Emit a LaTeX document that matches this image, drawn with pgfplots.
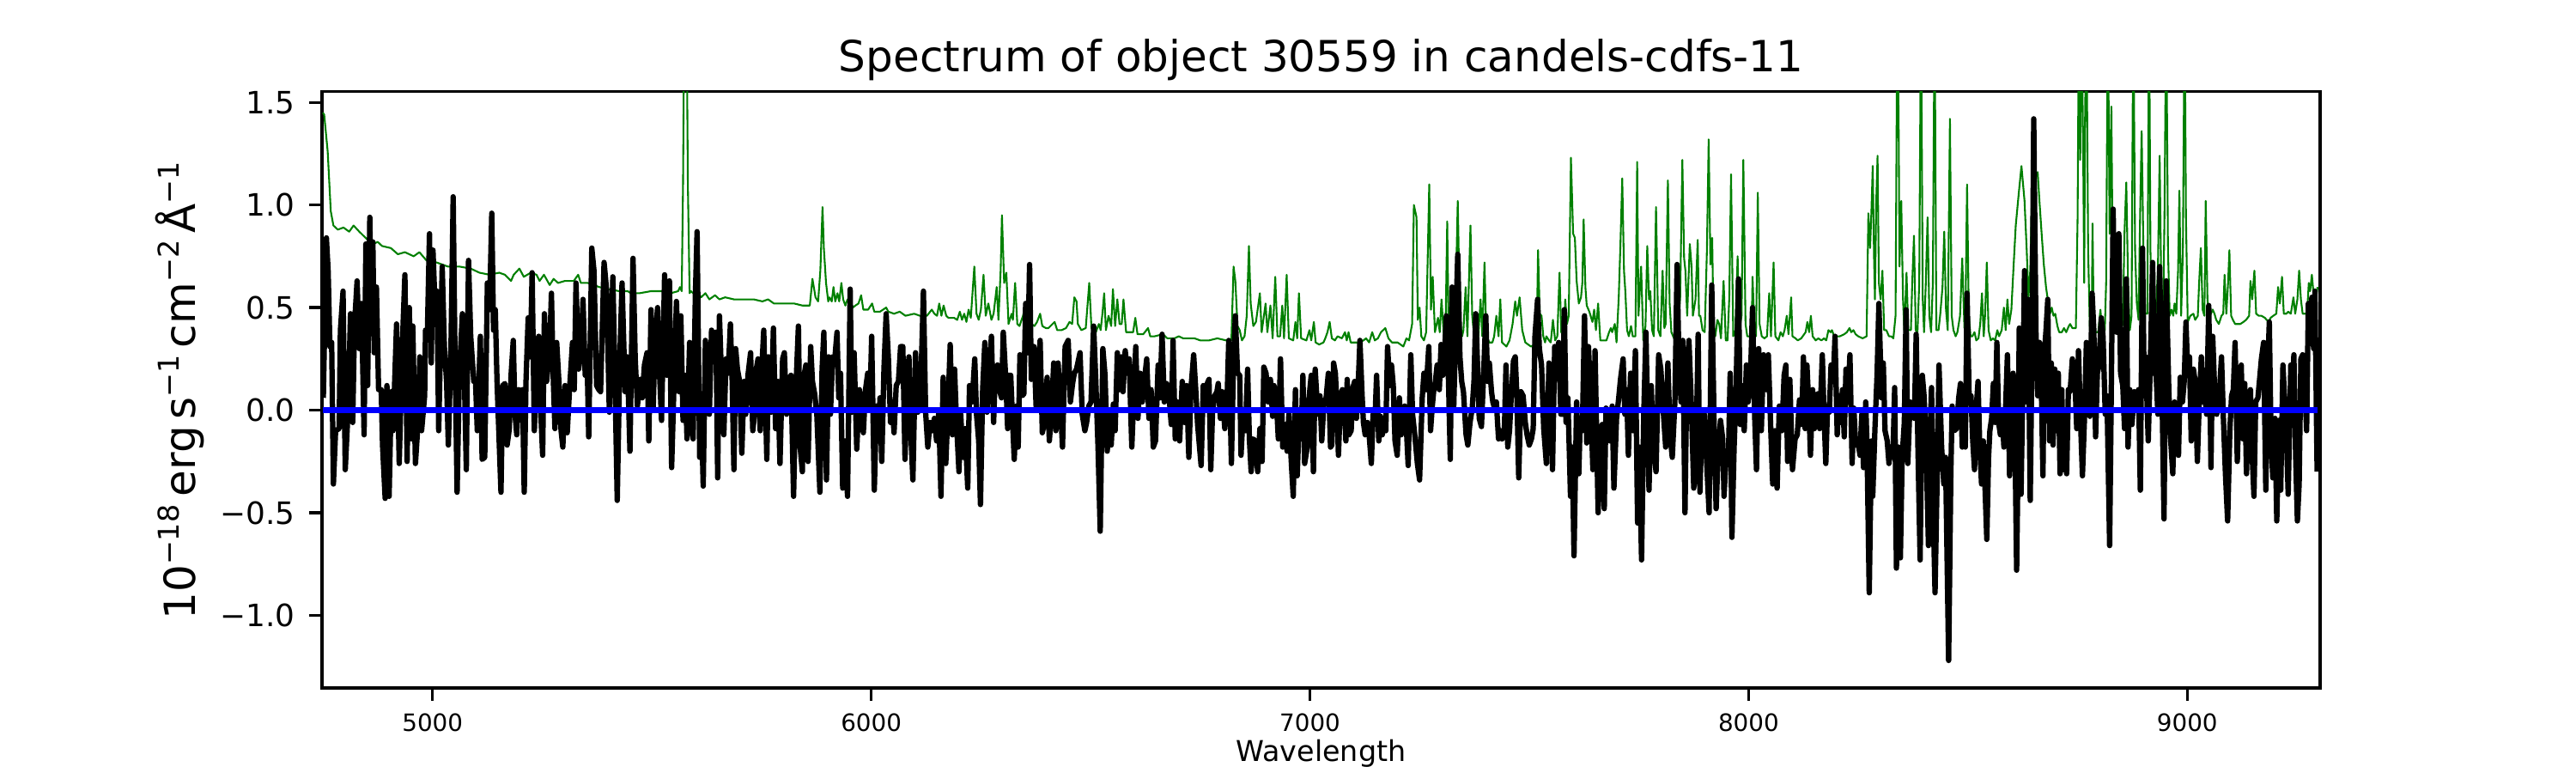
\documentclass[border=0pt]{standalone}
\usepackage{pgfplots}
\pgfplotsset{compat=1.18}
\usepackage{fontspec}
\setmainfont{DejaVu Sans}
\definecolor{mplgreen}{RGB}{0,128,0}
\definecolor{mplblue}{RGB}{0,0,255}
\begin{document}
\begin{tikzpicture}
\useasboundingbox (-90pt,-23.76pt) rectangle (630pt,192.24pt);
\begin{axis}[
  at={(0,0)}, anchor=south west,
  scale only axis, width=558.5pt, height=166.6pt,
  xmin=4748, xmax=9303, ymin=-1.354, ymax=1.552,
  axis line style={line width=0.8pt},
  tick align=outside, xtick pos=bottom, ytick pos=left,
  major tick length=3.5pt,
  every tick/.style={black, line width=0.8pt},
  xtick={5000,6000,7000,8000,9000},
  xticklabels={5000,6000,7000,8000,9000},
  ytick={-1,-0.5,0,0.5,1,1.5},
  yticklabels={−1.0,−0.5,0.0,0.5,1.0,1.5},
  xticklabel style={font=\fontsize{6.67}{8}\selectfont, anchor=base, inner sep=0pt, yshift=-8.7pt},
  yticklabel style={font=\fontsize{8.6}{10}\selectfont, anchor=east, inner sep=0pt, xshift=-3.9pt},
  clip=true,
]
\addplot[mplgreen, line width=0.5pt, line join=round] coordinates {
(4750,1.45)(4753,1.44)(4761,1.26)(4768,0.97)(4774,0.90)(4784,0.88)(4797,0.89)(4810,0.87)(4820,0.90)(4833,0.87)(4852,0.83)(4865,0.81)(4875,0.82)(4885,0.80)(4905,0.79)(4921,0.76)(4937,0.77)(4957,0.75)(4970,0.77)(4986,0.73)(5009,0.72)(5035,0.70)(5061,0.70)(5087,0.69)(5107,0.67)(5130,0.66)(5152,0.67)(5165,0.66)(5179,0.63)(5185,0.66)(5198,0.69)(5208,0.65)(5224,0.67)(5237,0.66)(5244,0.63)(5254,0.66)(5267,0.61)(5276,0.64)(5286,0.62)(5302,0.63)(5322,0.63)(5332,0.66)
(5338,0.62)(5354,0.62)(5367,0.61)(5380,0.60)(5400,0.59)(5426,0.58)(5445,0.58)(5452,0.57)(5472,0.57)(5498,0.58)(5524,0.58)(5543,0.57)(5560,0.58)(5564,0.60)(5568,0.58)(5571,1.10)(5574,2.0)(5579,2.0)(5582,1.10)(5586,0.57)(5589,0.58)(5594,0.57)(5602,0.58)(5612,0.55)(5622,0.57)(5631,0.54)(5644,0.56)(5654,0.54)(5667,0.55)(5687,0.54)(5706,0.54)(5732,0.54)(5752,0.53)(5765,0.54)(5778,0.52)(5798,0.52)(5824,0.52)(5843,0.51)(5860,0.51)(5866,0.64)(5873,0.55)(5879,0.53)(5884,0.68)(5889,0.99)(5892,0.79)(5897,0.62)(5902,0.53)
(5905,0.55)(5910,0.53)(5914,0.60)(5918,0.53)(5923,0.57)(5927,0.53)(5932,0.62)(5936,0.54)(5941,0.51)(5946,0.54)(5951,0.54)(5958,0.50)(5964,0.51)(5971,0.52)(5977,0.56)(5982,0.49)(5993,0.49)(6002,0.52)(6007,0.48)(6020,0.48)(6034,0.50)(6039,0.48)(6052,0.47)(6065,0.48)(6078,0.46)(6098,0.47)(6111,0.46)(6127,0.46)(6138,0.49)(6144,0.47)(6150,0.46)(6155,0.52)(6160,0.46)(6165,0.51)(6171,0.46)(6176,0.45)(6189,0.45)(6196,0.44)(6202,0.48)(6207,0.44)(6212,0.47)(6217,0.43)(6222,0.49)(6227,0.45)(6235,0.70)(6240,0.47)(6245,0.44)(6250,0.49)(6256,0.66)(6261,0.46)(6267,0.52)(6274,0.44)(6279,0.47)(6286,0.60)(6290,0.44)(6295,0.68)(6298,0.95)(6303,0.62)(6308,0.67)(6313,0.42)(6320,0.47)(6323,0.44)(6328,0.62)(6333,0.42)(6338,0.41)(6346,0.46)(6352,0.52)(6357,0.41)(6365,0.42)(6372,0.41)(6378,0.43)(6385,0.47)(6390,0.41)(6398,0.40)(6404,0.40)(6418,0.43)(6424,0.39)(6434,0.39)(6444,0.40)(6452,0.43)(6458,0.42)(6463,0.55)(6468,0.53)
(6471,0.42)(6479,0.39)(6489,0.40)(6497,0.62)(6502,0.40)(6512,0.38)(6519,0.42)(6523,0.39)(6527,0.47)(6531,0.57)(6535,0.39)(6541,0.46)(6547,0.41)(6551,0.59)(6556,0.41)(6561,0.54)(6566,0.42)(6571,0.42)(6575,0.54)(6581,0.38)(6590,0.38)(6597,0.38)(6602,0.45)(6607,0.37)(6620,0.37)(6631,0.40)(6636,0.36)(6646,0.36)(6665,0.37)(6675,0.35)(6691,0.35)(6701,0.36)(6711,0.35)(6724,0.35)(6737,0.35)(6750,0.34)(6770,0.34)(6789,0.35)(6809,0.34)(6821,0.34)(6826,0.70)(6830,0.63)(6835,0.41)(6840,0.39)(6845,0.34)(6851,0.36)(6856,0.46)(6861,0.80)(6865,0.52)(6871,0.41)(6877,0.43)(6886,0.57)(6890,0.38)(6899,0.52)(6903,0.38)(6910,0.51)(6915,0.35)(6921,0.65)(6926,0.36)(6932,0.36)(6937,0.51)(6941,0.35)(6947,0.66)(6952,0.35)(6962,0.34)(6967,0.43)(6971,0.35)(6975,0.57)(6980,0.35)(6992,0.34)(6999,0.39)(7003,0.34)(7009,0.43)(7013,0.33)(7021,0.32)(7031,0.33)(7035,0.35)
(7040,0.38)(7045,0.43)(7050,0.35)(7057,0.34)(7063,0.36)(7073,0.35)(7080,0.38)(7084,0.34)(7088,0.38)(7093,0.33)(7099,0.33)(7112,0.33)(7122,0.34)(7128,0.35)(7135,0.33)(7142,0.38)(7148,0.34)(7155,0.35)(7162,0.38)(7172,0.40)(7179,0.35)(7187,0.33)(7200,0.33)(7213,0.31)(7220,0.35)(7226,0.34)(7233,0.42)(7237,1.00)(7243,0.94)(7246,0.44)(7250,0.50)(7254,0.36)(7260,0.34)(7265,0.38)(7272,1.10)(7276,0.49)(7280,0.65)(7285,0.38)(7292,0.45)(7296,0.38)(7300,0.54)(7305,0.37)(7309,0.37)(7313,0.92)(7316,0.42)(7321,0.36)(7325,0.42)(7331,0.42)(7337,1.02)(7342,0.44)(7347,0.36)(7350,0.39)(7355,0.60)(7359,0.36)(7366,0.90)(7370,0.46)(7375,0.34)(7380,0.33)(7384,0.36)(7389,0.54)(7393,0.36)(7398,0.72)(7402,0.36)(7409,0.33)(7416,0.33)(7420,0.36)(7425,0.46)(7430,0.36)(7434,0.54)(7438,0.33)(7448,0.31)(7455,0.34)(7462,0.42)(7468,0.53)(7472,0.46)(7478,0.55)(7484,0.39)(7491,0.33)(7504,0.31)(7512,0.32)(7517,0.34)(7520,0.78)(7524,0.47)(7528,0.46)(7532,0.36)(7536,0.33)(7539,0.36)(7545,0.34)(7549,0.33)(7554,0.44)(7559,0.34)(7564,0.36)(7569,0.67)(7573,0.38)(7579,0.36)(7582,0.54)(7586,0.42)(7590,0.46)(7595,1.23)(7600,0.86)(7604,0.84)
(7608,0.63)(7613,0.52)(7618,0.55)(7621,0.62)(7624,0.93)(7628,0.60)(7631,0.51)(7637,0.48)(7644,0.43)(7648,0.49)(7652,0.39)(7657,0.52)(7662,0.34)(7670,0.34)(7676,0.34)(7682,0.38)(7686,0.40)(7689,0.38)(7695,0.42)(7699,0.33)(7704,0.55)(7708,0.82)(7712,1.13)(7716,0.68)(7719,0.58)(7723,0.39)(7727,0.36)(7732,0.41)(7736,0.36)(7742,0.36)(7746,1.21)(7749,0.46)(7755,0.70)(7760,0.34)(7765,0.41)(7769,0.80)(7773,0.54)(7776,0.58)(7780,0.39)(7784,0.36)(7789,0.99)(7794,0.39)(7799,0.36)(7804,0.68)(7808,0.40)(7811,0.42)(7816,1.12)(7820,0.52)(7824,0.38)(7830,0.35)(7835,0.39)(7840,0.42)(7844,0.55)(7849,1.22)(7853,0.74)(7856,0.68)(7860,0.46)(7866,0.81)(7870,0.70)(7873,0.46)(7879,0.54)(7884,0.83)(7887,0.46)(7890,0.46)(7895,0.39)(7900,0.38)(7905,0.78)(7909,1.32)(7913,0.71)(7917,0.84)(7920,0.42)(7924,0.36)(7929,0.44)(7933,0.42)(7937,0.35)(7943,0.63)(7948,0.34)(7952,0.34)(7956,0.55)(7960,1.15)(7965,0.36)(7970,0.39)(7975,0.75)(7979,0.39)(7984,0.46)(7988,1.22)(7993,0.42)(7997,0.36)(8003,0.36)(8007,0.39)(8009,0.65)(8013,0.42)(8017,0.36)(8021,1.06)(8025,0.42)(8030,0.36)(8036,0.35)(8042,0.36)(8047,0.57)(8051,0.36)(8057,0.72)(8061,0.36)(8068,0.34)(8073,0.38)(8078,0.36)(8082,0.39)(8087,0.46)(8091,0.37)(8097,0.55)(8100,0.36)(8107,0.35)(8112,0.34)(8120,0.35)(8130,0.38)(8134,0.43)(8138,0.38)(8142,0.46)(8146,0.36)(8153,0.34)(8159,0.35)(8166,0.34)(8172,0.35)
(8177,0.34)(8182,0.39)(8187,0.38)(8190,0.39)(8195,0.36)(8202,0.36)(8208,0.36)(8218,0.37)(8224,0.38)(8230,0.40)(8234,0.38)(8239,0.39)(8244,0.37)(8250,0.36)(8260,0.35)(8269,0.36)(8273,0.96)(8277,0.79)(8280,0.97)(8283,1.19)(8286,0.74)(8288,0.54)(8291,1.02)(8294,1.24)(8297,0.62)(8301,0.54)(8305,0.68)(8309,0.39)(8314,0.39)(8320,0.36)(8325,0.36)(8330,0.35)(8335,0.46)(8339,2.0)(8342,1.42)(8344,0.70)(8348,1.02)(8352,0.54)(8355,0.39)(8360,0.67)(8364,0.39)(8370,0.39)(8373,0.62)(8377,0.85)(8381,0.39)(8385,0.38)(8389,0.62)(8393,2.0)(8397,0.54)(8400,0.38)(8404,0.62)(8408,0.94)(8412,0.46)(8416,0.38)(8420,0.62)(8424,2.0)(8428,0.39)(8433,0.39)(8437,0.47)(8442,0.60)(8446,0.87)(8450,0.49)(8454,0.39)(8459,1.42)(8463,0.46)(8467,0.39)(8472,0.36)(8476,0.38)(8482,0.46)(8487,0.74)(8492,0.40)(8495,0.58)(8498,1.10)(8502,0.46)(8506,0.36)(8510,0.36)(8515,0.38)(8519,0.34)(8524,0.35)(8528,0.42)(8532,0.57)(8536,0.36)(8539,0.46)(8543,0.72)(8547,0.39)(8552,0.34)(8557,0.35)(8562,0.34)(8567,0.39)(8571,0.36)(8577,0.39)(8582,0.50)(8586,0.39)(8590,0.54)(8594,0.42)(8599,0.49)(8604,0.70)(8609,0.90)(8616,1.06)(8622,1.19)(8629,1.02)(8634,0.78)(8638,0.55)(8642,0.68)(8646,1.06)(8650,1.13)(8655,1.14)(8659,1.16)(8663,1.02)(8668,0.86)(8673,0.71)(8678,0.60)(8682,0.54)(8687,0.47)(8691,0.50)(8695,0.46)(8699,0.47)(8704,0.41)(8708,0.38)(8714,0.38)(8719,0.40)(8724,0.38)(8730,0.41)(8733,0.42)(8738,0.40)
(8746,0.40)(8750,0.94)(8753,2.0)(8756,1.22)(8759,2.0)(8763,1.18)(8765,0.62)(8767,1.42)(8770,2.0)(8774,0.78)(8778,0.39)(8782,0.38)(8784,0.91)(8787,0.39)(8792,0.38)(8797,0.38)(8802,0.49)(8806,0.38)(8812,0.39)(8815,0.62)(8819,2.0)(8823,0.86)(8827,1.48)(8830,0.70)(8832,0.42)(8836,0.39)(8841,0.46)(8844,0.58)(8848,0.39)(8853,0.42)(8857,0.87)(8861,1.11)(8865,0.62)(8869,0.39)(8873,0.46)(8877,2.0)(8881,0.78)(8885,0.52)(8889,0.44)(8892,0.89)(8896,1.36)(8900,0.78)(8904,0.47)(8909,0.47)(8913,2.0)(8916,0.78)(8920,0.47)(8924,0.47)(8928,0.46)(8933,0.68)(8937,1.24)(8941,0.54)(8945,0.47)(8948,0.94)(8952,2.0)(8956,0.78)(8960,0.46)(8964,0.49)(8968,0.46)(8971,0.52)(8975,0.47)(8979,0.68)(8982,1.07)(8986,0.46)(8990,0.78)(8994,2.0)(8997,0.94)(9001,0.43)(9007,0.46)(9014,0.47)(9018,0.44)(9024,0.46)(9027,0.62)(9031,0.79)(9035,0.49)(9039,0.46)(9042,1.02)(9046,0.54)(9050,0.46)(9054,0.47)(9058,0.49)(9062,0.47)(9066,0.44)(9072,0.42)(9078,0.46)(9082,0.47)(9085,0.66)(9089,0.47)(9093,0.62)(9096,0.78)(9100,0.46)(9104,0.44)(9109,0.42)(9115,0.42)(9121,0.42)(9128,0.43)(9134,0.44)(9141,0.46)(9144,0.63)(9148,0.54)(9153,0.68)(9157,0.47)(9163,0.46)(9169,0.46)(9177,0.45)(9185,0.43)(9190,0.45)(9196,0.46)(9203,0.47)(9207,0.60)(9211,0.52)(9216,0.65)(9220,0.47)(9226,0.47)(9230,0.48)(9236,0.47)(9242,0.55)(9246,0.47)(9251,0.54)(9255,0.68)(9259,0.54)(9263,0.47)(9268,0.47)(9273,0.47)(9277,0.62)(9280,0.58)(9284,0.66)(9289,0.54)(9293,0.54)(9297,0.60)
};
\addplot[black, line width=1.5pt, line join=round] coordinates {
(4751,0.06)(4758,0.84)(4762,0.68)(4766,0.31)(4770,0.33)(4774,-0.36)(4779,-0.10)(4787,-0.09)(4790,0.39)(4796,0.58)(4801,-0.29)(4807,-0.02)(4813,0.47)(4818,-0.06)(4822,0.41)(4828,0.63)(4833,0.30)(4838,0.52)(4844,-0.12)(4848,0.81)(4852,0.12)(4857,0.94)(4860,0.39)(4864,0.82)(4867,0.28)(4872,0.60)(4877,0.10)(4883,0.10)(4886,-0.17)(4892,-0.43)(4896,0.12)(4901,-0.42)(4906,0.09)(4910,-0.10)(4918,0.42)(4924,-0.26)(4931,0.31)(4937,0.66)(4942,-0.25)(4947,0.50)(4952,-0.14)(4955,0.41)(4961,-0.26)(4967,-0.06)(4971,0.26)(4975,-0.10)(4982,0.07)(4984,0.39)(4988,0.35)(4993,0.86)(4997,0.23)(5001,0.78)(5006,0.49)(5010,0.58)(5014,-0.10)(5022,0.70)(5027,0.31)(5032,0.14)(5036,-0.17)(5042,0.30)(5047,1.04)(5051,0.30)(5056,-0.40)(5061,0.17)(5068,0.47)(5072,0.22)(5077,-0.29)(5082,0.73)(5087,0.36)(5094,0.14)(5098,0.14)(5102,-0.10)(5109,0.36)(5113,-0.24)(5119,-0.23)(5125,0.62)(5130,0.49)(5135,0.96)(5139,0.39)(5143,0.49)(5147,0.14)(5156,-0.40)(5160,0.12)(5165,0.13)(5170,-0.17)(5175,-0.09)(5179,0.17)(5184,0.34)(5188,-0.02)(5192,-0.12)(5196,0.10)(5201,-0.02)(5205,0.10)(5209,-0.40)(5213,0.14)(5218,0.45)(5223,0.26)(5227,0.67)(5232,-0.10)(5237,0.17)(5242,0.36)(5247,-0.02)(5251,-0.22)(5255,0.47)(5260,0.14)(5267,0.30)(5271,0.57)(5275,0.17)(5279,-0.09)(5283,0.33)(5288,0.14)(5293,-0.10)(5297,-0.18)(5302,0.12)(5307,-0.11)(5312,0.09)(5319,0.33)(5323,0.10)(5327,0.62)(5333,0.20)
(5339,0.30)(5343,0.54)(5348,0.17)(5352,0.28)(5356,-0.13)(5363,0.79)(5368,0.68)(5374,0.12)(5379,0.10)(5383,0.09)(5391,0.72)(5397,0.58)(5403,-0.01)(5411,0.65)(5416,0.14)(5421,-0.44)(5427,0.26)(5432,0.62)(5439,0.09)(5444,0.26)(5450,-0.20)(5457,0.74)(5462,0.25)(5467,0.02)(5473,0.15)(5478,0.06)(5483,0.22)(5489,0.28)(5493,-0.15)(5498,0.49)(5503,0.01)(5507,0.33)(5513,0.50)(5517,0.20)(5522,-0.05)(5529,0.66)(5534,0.17)(5540,0.63)(5545,-0.28)(5551,0.17)(5556,0.53)(5562,0.09)(5566,0.46)(5571,-0.05)(5576,0.17)(5580,-0.14)(5586,0.33)(5589,-0.02)(5594,-0.14)(5599,0.55)(5603,0.87)(5609,-0.23)(5612,0.07)(5617,-0.37)(5622,0.34)(5627,0.18)(5631,-0.02)(5636,0.39)(5641,0.30)(5646,0.38)(5650,-0.33)(5654,0.46)(5659,0.14)(5664,-0.12)(5669,0.25)(5674,0.18)(5679,0.42)(5683,0.14)(5687,-0.29)(5691,0.30)(5695,0.20)(5700,0.14)(5705,-0.21)(5710,0.14)(5714,-0.02)(5719,0.17)(5725,0.28)(5730,-0.10)(5734,-0.02)(5738,0.20)(5742,0.25)(5747,-0.10)(5751,0.22)(5755,0.39)(5762,-0.24)(5766,0.26)(5772,-0.01)(5777,0.40)(5782,-0.09)(5787,0.14)(5792,-0.26)(5798,0.25)(5802,0.28)(5807,-0.02)(5813,0.13)(5817,0.17)(5823,-0.42)(5828,0.09)(5834,0.41)(5838,-0.18)(5843,-0.30)(5847,0.17)(5851,0.22)(5856,-0.25)(5862,0.31)(5866,0.14)(5871,0.08)(5876,-0.02)(5883,-0.40)(5888,0.20)(5892,0.38)(5898,-0.34)
(5903,0.26)(5907,-0.02)(5912,0.26)(5917,0.25)(5922,0.38)(5926,0.06)(5930,0.18)(5935,-0.38)(5940,-0.15)(5946,-0.42)(5952,0.59)(5956,-0.01)(5961,0.28)(5967,-0.19)(5973,0.10)(5977,0.04)(5982,-0.11)(5987,0.10)(5992,0.18)(5997,0.02)(6001,0.36)(6007,-0.39)(6012,0.02)(6016,-0.15)(6020,0.06)(6024,-0.25)(6029,0.20)(6034,0.47)(6039,0.26)(6044,-0.06)(6048,0.04)(6052,-0.11)(6057,0.12)(6062,0.14)(6067,0.31)(6072,0.31)(6077,-0.24)(6082,0.14)(6086,0.26)(6090,-0.10)(6095,-0.34)(6101,0.28)(6106,-0.01)(6111,0.01)(6114,0.20)(6119,0.58)(6124,-0.01)(6129,-0.18)(6134,-0.06)(6139,-0.10)(6144,-0.04)(6149,-0.15)(6154,-0.01)(6159,-0.42)(6164,0.16)(6170,-0.26)(6175,0.01)(6180,0.32)(6185,-0.12)(6190,0.20)(6194,-0.04)(6200,-0.30)(6204,-0.02)(6209,-0.23)(6214,-0.09)(6220,-0.38)(6224,0.12)(6230,0.04)(6236,0.25)(6240,-0.02)(6245,-0.15)(6249,-0.46)(6254,0.10)(6259,0.33)(6264,-0.01)(6269,0.17)(6274,0.36)(6279,-0.06)(6283,0.20)(6288,0.22)(6292,0.10)(6297,0.06)(6301,0.38)(6307,0.14)(6311,-0.09)(6314,0.17)(6318,0.17)(6323,-0.09)(6326,-0.24)(6331,0.02)(6335,-0.18)(6339,0.27)(6344,0.07)(6348,0.08)(6352,0.52)(6357,0.28)(6361,0.71)(6365,0.15)(6371,0.31)(6376,0.01)(6380,0.14)(6385,0.34)(6390,-0.11)(6395,-0.06)(6401,0.16)(6406,-0.15)(6411,-0.01)(6416,0.23)(6421,-0.10)(6426,0.23)(6431,0.04)(6436,-0.18)(6442,0.31)(6449,0.34)(6454,0.04)(6459,0.13)(6463,0.18)(6468,0.20)
(6476,0.28)(6481,-0.02)(6487,-0.10)(6491,-0.06)(6496,0.02)(6501,0.04)(6507,0.41)(6512,0.14)(6517,-0.18)(6522,-0.59)(6528,0.30)(6533,0.17)(6538,-0.20)(6543,-0.02)(6547,-0.17)(6552,0.03)(6556,-0.10)(6561,0.28)(6566,0.10)(6570,0.26)(6574,0.09)(6579,0.29)(6583,0.20)(6588,0.25)(6594,-0.18)(6598,0.04)(6603,0.31)(6608,-0.04)(6613,0.18)(6618,0.04)(6623,0.15)(6628,0.25)(6633,-0.04)(6638,0.10)(6643,-0.18)(6648,-0.15)(6654,0.22)(6658,0.06)(6663,0.37)(6668,0.04)(6673,0.13)(6678,0.09)(6684,-0.07)(6688,0.34)(6693,-0.14)(6698,0.04)(6703,-0.15)(6709,0.14)(6714,-0.06)(6719,0.12)(6724,-0.23)(6729,0.11)(6735,0.27)(6740,0.09)(6744,-0.07)(6748,-0.17)(6752,-0.27)(6757,0.12)(6761,0.01)(6766,0.13)(6770,0.15)(6774,-0.29)(6778,-0.01)(6783,0.07)(6788,0.09)(6791,0.13)(6796,-0.04)(6800,0.09)(6806,-0.09)(6811,0.04)(6815,0.34)(6821,-0.26)(6825,0.15)(6830,0.46)(6835,0.18)(6840,0.17)(6843,-0.22)(6848,0.00)(6853,-0.10)(6858,0.20)(6862,-0.14)(6866,-0.30)(6871,-0.14)(6875,-0.15)(6881,-0.30)(6886,-0.09)(6891,-0.25)(6895,0.21)(6900,0.18)(6905,0.04)(6910,0.15)(6915,-0.03)(6918,0.12)(6923,0.07)(6928,-0.14)(6933,0.25)(6938,-0.18)(6943,-0.07)(6948,-0.20)(6952,-0.02)(6958,-0.27)(6962,-0.42)(6967,0.10)(6971,-0.32)(6976,-0.02)(6980,-0.14)(6984,0.17)(6988,-0.26)(6994,-0.18)(6998,0.06)(7003,0.17)(7008,-0.30)(7012,0.20)(7018,-0.02)(7023,0.07)(7027,-0.15)(7032,0.04)(7037,0.06)
(7042,0.18)(7047,-0.18)(7050,-0.17)(7054,0.23)(7058,0.18)(7062,0.01)(7065,-0.22)(7070,0.07)(7074,0.10)(7078,0.04)(7082,-0.15)(7085,0.15)(7089,-0.12)(7094,-0.10)(7098,0.11)(7102,0.14)(7106,-0.04)(7110,0.12)(7114,0.34)(7119,0.07)(7122,-0.06)(7126,-0.12)(7131,-0.06)(7135,-0.12)(7140,-0.26)(7144,-0.02)(7148,-0.07)(7152,0.17)(7157,-0.15)(7161,-0.03)(7165,-0.12)(7169,-0.07)(7173,-0.10)(7177,0.31)(7182,0.12)(7186,0.22)(7190,0.12)(7194,-0.15)(7199,-0.22)(7204,0.06)(7208,-0.12)(7212,-0.02)(7216,0.02)(7220,-0.09)(7224,-0.27)(7230,0.27)(7234,-0.02)(7239,-0.12)(7245,-0.26)(7250,-0.34)(7256,0.06)(7260,0.18)(7265,0.10)(7271,0.31)(7275,-0.10)(7279,0.02)(7282,0.09)(7286,0.14)(7290,0.22)(7295,0.10)(7299,0.32)(7303,0.17)(7307,0.28)(7311,0.46)(7316,0.14)(7320,-0.24)(7324,0.60)(7328,0.02)(7333,0.46)(7337,0.76)(7342,0.26)(7346,0.14)(7350,0.09)(7356,-0.12)(7360,-0.17)(7365,-0.06)(7370,0.01)(7374,0.14)(7378,0.47)(7382,0.23)(7386,-0.04)(7391,-0.08)(7396,0.18)(7401,0.46)(7405,0.14)(7409,0.23)(7414,0.09)(7417,0.04)(7421,0.01)(7425,0.04)(7430,-0.14)(7434,-0.10)(7438,-0.14)(7443,-0.12)(7447,0.22)(7451,-0.18)(7455,-0.10)(7459,0.07)(7464,0.24)(7468,0.26)(7472,0.06)(7476,-0.33)(7481,0.09)(7486,0.07)(7491,-0.06)(7495,-0.12)(7500,-0.17)(7505,-0.14)(7509,-0.09)(7513,0.36)(7519,0.54)(7523,0.30)(7528,0.22)(7533,-0.09)(7539,-0.26)(7545,0.23)(7549,0.06)(7553,-0.29)(7558,0.31)(7562,0.23)(7567,0.33)(7572,-0.02)(7576,-0.02)(7580,0.49)(7584,-0.06)(7588,0.06)(7592,-0.25)(7594,-0.42)(7598,-0.18)(7602,-0.71)
(7608,0.04)(7613,-0.31)(7616,-0.06)(7621,-0.10)(7626,0.46)(7631,-0.16)(7635,0.31)(7640,0.06)(7645,-0.29)(7650,0.29)(7657,-0.50)(7661,-0.17)(7666,-0.07)(7671,-0.48)(7675,0.01)(7680,-0.04)(7684,-0.15)(7689,0.02)(7693,-0.38)(7699,-0.04)(7704,0.06)(7708,0.15)(7714,0.25)(7718,-0.02)(7722,0.10)(7726,-0.22)(7731,0.18)(7736,-0.10)(7742,0.29)(7747,-0.55)(7751,-0.18)(7756,-0.73)(7761,-0.02)(7766,0.38)(7773,-0.39)(7778,0.12)(7783,-0.18)(7789,-0.30)(7795,0.27)(7800,0.20)(7806,-0.02)(7811,-0.18)(7816,0.23)(7821,-0.12)(7826,-0.23)(7832,0.04)(7837,0.71)(7841,0.26)(7846,0.04)(7850,0.34)(7855,-0.50)(7859,0.13)(7864,0.34)(7869,0.06)(7875,-0.38)(7880,-0.23)(7885,0.37)(7889,-0.40)(7894,-0.04)(7899,-0.02)(7905,-0.28)(7910,-0.50)(7916,0.61)(7922,-0.15)(7926,-0.48)(7931,-0.18)(7936,-0.05)(7941,-0.14)(7944,-0.42)(7948,-0.26)(7954,-0.23)(7958,0.18)(7962,-0.62)(7967,-0.18)(7971,0.07)(7977,0.64)(7981,-0.07)(7985,0.12)(7990,-0.10)(7995,0.22)(7999,0.04)(8004,0.14)(8009,0.50)(8014,-0.04)(8018,-0.29)(8023,0.30)(8029,-0.10)(8034,0.27)(8040,0.10)(8045,0.27)(8050,-0.06)(8055,-0.36)(8060,-0.10)(8065,-0.38)(8070,0.02)(8076,-0.10)(8081,0.17)(8085,0.22)(8089,-0.25)(8094,0.15)(8100,-0.29)(8106,-0.14)(8111,-0.12)(8116,0.05)(8121,-0.07)(8125,0.26)(8129,-0.09)(8133,0.22)(8138,-0.02)(8141,-0.22)(8146,0.10)(8150,-0.09)(8154,-0.02)(8158,0.08)(8162,-0.09)(8168,0.27)(8172,-0.02)
(8176,-0.26)(8180,0.02)(8184,-0.01)(8188,0.22)(8193,0.14)(8197,0.36)(8202,-0.12)(8206,0.07)(8210,-0.06)(8214,0.10)(8218,-0.13)(8222,0.20)(8226,0.04)(8231,0.27)(8236,-0.26)(8240,0.01)(8244,-0.17)(8249,-0.15)(8254,-0.22)(8258,-0.02)(8262,-0.28)(8267,0.04)(8270,-0.18)(8275,-0.89)(8280,-0.15)(8283,-0.42)(8288,-0.09)(8293,0.18)(8297,0.52)(8303,0.06)(8307,0.23)(8311,-0.10)(8316,-0.15)(8320,-0.26)(8323,-0.18)(8329,-0.23)(8333,0.11)(8337,-0.77)(8342,-0.18)(8346,-0.72)(8350,-0.23)(8355,-0.06)(8359,0.49)(8363,-0.26)(8368,0.04)(8373,-0.02)(8378,-0.04)(8382,0.37)(8386,-0.18)(8391,-0.73)(8396,0.17)(8400,0.07)(8404,-0.12)(8410,-0.66)(8414,-0.10)(8417,0.11)(8421,-0.50)(8425,-0.89)(8430,-0.31)(8434,0.22)(8440,-0.18)(8445,-0.36)(8449,-0.23)(8456,-1.22)(8461,-0.31)(8464,0.02)(8469,-0.10)(8474,-0.09)(8479,0.06)(8483,0.13)(8487,-0.18)(8490,-0.02)(8494,-0.18)(8498,0.57)(8503,0.04)(8507,0.07)(8511,-0.15)(8515,-0.29)(8519,0.01)(8523,0.14)(8527,-0.18)(8531,-0.36)(8535,-0.15)(8539,-0.38)(8543,-0.63)(8547,-0.23)(8550,-0.10)(8554,-0.04)(8558,0.13)(8562,-0.06)(8566,0.33)(8570,-0.06)(8574,-0.12)(8578,-0.02)(8582,-0.18)(8586,0.02)(8590,0.27)(8595,-0.32)(8599,-0.10)(8603,0.18)(8607,-0.10)(8611,-0.78)(8614,-0.28)(8617,0.40)(8621,-0.41)(8625,0.10)(8629,0.68)(8633,0.04)(8637,0.54)(8642,-0.44)(8646,0.30)(8650,1.42)(8655,0.39)(8659,0.07)(8663,0.33)(8667,0.15)(8671,-0.32)(8674,0.27)(8678,0.39)(8682,0.54)(8686,-0.15)(8690,0.23)(8694,-0.17)(8698,0.20)(8702,-0.10)(8706,0.18)(8710,-0.31)(8714,0.10)(8717,-0.29)(8721,-0.10)(8725,-0.31)(8729,0.10)(8733,0.09)(8738,0.25)
(8744,0.14)(8748,-0.09)(8752,0.29)(8756,-0.01)(8761,-0.32)(8766,-0.02)(8770,0.33)(8774,0.22)(8778,-0.03)(8783,0.57)(8787,0.39)(8791,-0.13)(8795,0.18)(8798,0.21)(8804,0.45)(8808,0.36)(8813,-0.02)(8817,0.07)(8823,-0.66)(8827,0.14)(8831,0.98)(8835,0.42)(8839,0.38)(8844,0.86)(8848,0.18)(8853,0.12)(8857,-0.09)(8861,0.64)(8865,-0.18)(8869,0.10)(8874,-0.07)(8879,0.09)(8883,0.02)(8889,0.10)(8893,-0.39)(8898,0.79)(8902,0.07)(8905,0.26)(8911,-0.15)(8916,0.25)(8921,0.72)(8925,0.18)(8929,0.17)(8933,-0.02)(8937,0.70)(8942,0.14)(8947,-0.53)(8952,0.63)(8958,0.09)(8962,-0.14)(8967,-0.31)(8971,0.04)(8976,-0.10)(8980,-0.22)(8984,0.16)(8989,0.04)(8993,0.14)(8997,0.43)(9001,0.18)(9005,0.26)(9009,-0.15)(9014,0.20)(9018,0.14)(9023,-0.25)(9027,0.02)(9032,0.26)(9036,0.04)(9040,0.07)(9044,-0.02)(9049,0.51)(9054,-0.28)(9058,0.36)(9063,0.06)(9067,-0.02)(9072,0.04)(9078,0.26)(9082,-0.02)(9087,-0.31)(9092,-0.54)(9097,-0.10)(9101,0.07)(9105,0.10)(9109,0.33)(9114,-0.25)(9118,0.04)(9123,0.22)(9127,-0.14)(9131,0.13)(9135,-0.31)(9139,-0.02)(9144,0.10)(9148,-0.22)(9152,-0.42)(9156,0.04)(9161,0.06)(9164,0.13)(9169,0.25)(9174,0.33)(9179,-0.39)(9183,0.18)(9187,0.43)(9191,-0.15)(9195,-0.33)(9200,-0.04)(9204,-0.54)(9209,-0.05)(9213,-0.39)(9218,0.22)(9223,0.01)(9226,-0.12)(9230,-0.41)(9236,0.22)(9239,0.04)(9243,0.27)(9247,-0.22)(9251,-0.54)(9255,-0.36)(9259,0.25)(9263,0.27)(9267,0.17)(9272,-0.10)(9276,0.52)(9280,0.33)(9284,0.55)(9288,0.30)(9291,0.58)(9296,-0.30)
};
\addplot[mplblue, line width=1.5pt] coordinates {(4750,0) (9296,0)};
\end{axis}
\node[anchor=base, font=\fontsize{12}{14}\selectfont] at (279.25pt,172.1pt) {Spectrum of object 30559 in candels-cdfs-11};
\node[anchor=base, font=\fontsize{8}{10}\selectfont] at (279.25pt,-20.6pt) {Wavelength};
\node[rotate=90, anchor=base, font=\fontsize{12}{14}\selectfont] at (-35.5pt,83.3pt) {10\textsuperscript{−18}\hspace{0.15em}erg\hspace{0.15em}s\textsuperscript{−1}\hspace{0.12em}cm\textsuperscript{−2}\hspace{0.12em}Å\textsuperscript{−1}};
\end{tikzpicture}
\end{document}
